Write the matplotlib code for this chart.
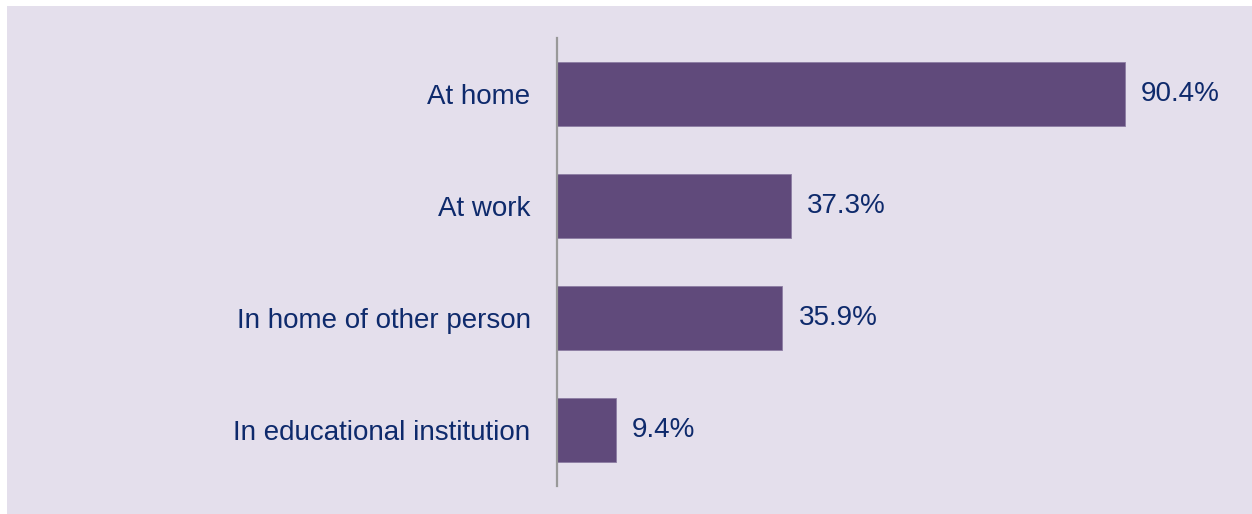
import matplotlib
matplotlib.use("Agg")
import matplotlib.pyplot as plt
from matplotlib.patches import Rectangle

# data
categories = ["At home", "At work", "In home of other person", "In educational institution"]
values = [90.4, 37.3, 35.9, 9.4]
value_labels = ["90.4%", "37.3%", "35.9%", "9.4%"]

plt.rcParams["font.family"] = ["Liberation Sans", "DejaVu Sans"]

W, H = 1252, 514
fig = plt.figure(figsize=(W / 100, H / 100), dpi=100, facecolor="white")

# lavender panel with a thin white margin at top/left
fig.patches.append(Rectangle((7 / W, -0.01), 1.02 - 7 / W, 1.01 - 6 / H,
                             transform=fig.transFigure, facecolor="#E4DFEC",
                             edgecolor="none", zorder=-10))

ax = fig.add_axes([557 / W, 1 - 486 / H, 628 / W, 448 / H])
ax.set_zorder(5)
ax.set_facecolor("none")

text_color = "#0E2A6C"
bar_color = "#604A7B"

ypos = list(range(len(categories)))
ax.barh(ypos, values, height=0.57, color=bar_color, edgecolor="#8C7DA3", linewidth=0.6)
ax.set_xlim(0, 100)
ax.set_ylim(len(categories) - 0.5, -0.5)

for y, v, lab in zip(ypos, values, value_labels):
    ax.annotate(lab, (v, y), xytext=(16, 0), textcoords="offset pixels",
                va="center", ha="left", fontsize=20, color=text_color)

ax.set_yticks(ypos)
ax.set_yticklabels(categories, fontsize=20, color=text_color)
ax.tick_params(axis="y", length=0, pad=19)
ax.set_xticks([])

for side in ["top", "right", "bottom"]:
    ax.spines[side].set_visible(False)
ax.spines["left"].set_color("#999999")
ax.spines["left"].set_linewidth(1.6)

fig.savefig("out.png", dpi=100, facecolor=fig.get_facecolor())
